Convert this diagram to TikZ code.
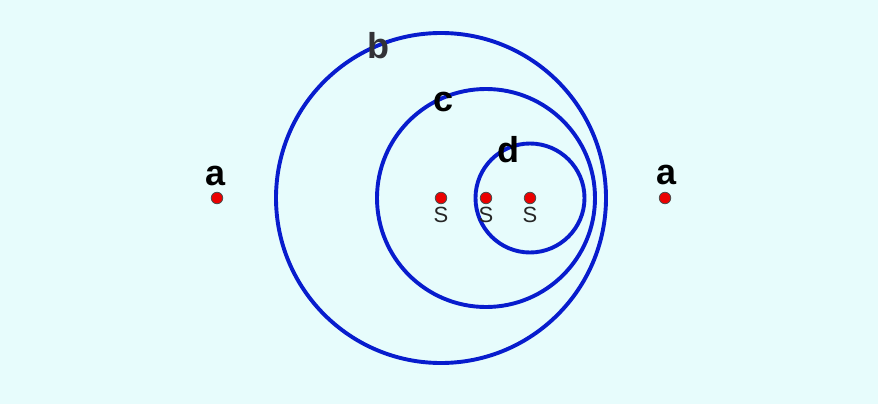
\documentclass[tikz,border=0pt]{standalone}
\usepackage{fontspec}
\setmainfont{Liberation Sans}
\definecolor{bgc}{RGB}{231,252,252}
\definecolor{ringc}{RGB}{8,28,205}
\definecolor{dotc}{RGB}{235,0,0}
\definecolor{lblgray}{RGB}{50,50,55}
\begin{document}
\begin{tikzpicture}[x=1pt,y=-1pt,
  ring/.style={draw=ringc,line width=3.9pt},
  pt/.style={circle,fill=dotc,draw=black!70,line width=0.8pt,inner sep=0pt,minimum size=11.5pt},
  biglbl/.style={anchor=base,inner sep=0pt,font=\fontsize{36}{36}\selectfont\bfseries},
  slbl/.style={anchor=base,inner sep=0pt,font=\fontsize{22}{22}\selectfont,text=black!85}]
\fill[bgc] (0,0) rectangle (878,404);
\useasboundingbox (0,0) rectangle (878,404);
% centres
\coordinate (c1) at (441,198);
\coordinate (c2) at (486,198);
\coordinate (c3) at (530,198);
% rings
\draw[ring] (c1) circle[radius=165pt];
\draw[ring] (c2) circle[radius=109pt];
\draw[ring] (c3) circle[radius=54.5pt];
% points
\node[pt] (s1) at (c1) {};
\node[pt] (s2) at (c2) {};
\node[pt] (s3) at (c3) {};
\node[pt] (aL) at (217,198) {};
\node[pt] (aR) at (665,198) {};
% labels
\node[biglbl] (la1) at (216,185) {a};
\node[biglbl] (la2) at (667,184) {a};
\node[biglbl,text=lblgray] (lb) at (378,59) {b};
\node[biglbl] (lc) at (444,111) {c};
\node[biglbl] (ld) at (508,162) {d};
\node[slbl] (ls1) at (441,222) {S};
\node[slbl] (ls2) at (486,222) {S};
\node[slbl] (ls3) at (530,222) {S};
\end{tikzpicture}
\end{document}
